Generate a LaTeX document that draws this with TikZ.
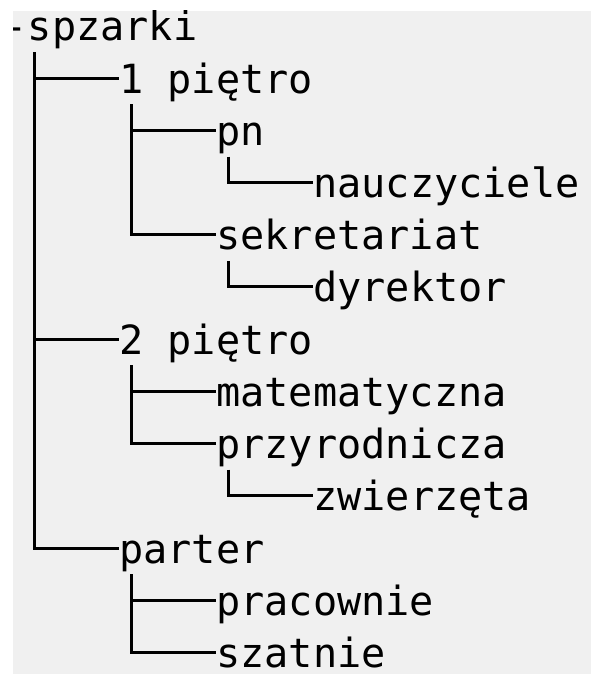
\documentclass[tikz,border=0pt]{standalone}
\usepackage{fontspec}
\newfontfamily\treefont{DejaVu Sans Mono}
\usepackage{xcolor}
\definecolor{bggray}{HTML}{F0F0F0}
\tikzset{lbl/.style={anchor=base west, inner sep=0pt, text height=30pt, text depth=0pt, font=\treefont\fontsize{40.2}{48}\selectfont}}
\tikzset{branch/.style={draw=black, line width=3pt}}

\begin{document}
\begin{tikzpicture}[x=1pt, y=-1pt]
                    \useasboundingbox (0, 0) rectangle (591, 674);
                    \fill[white] (0, 0) rectangle (591, 674);
                    \fill[bggray] (13, 11) rectangle (591, 674);

                    \begin{scope}
                    \clip (13, 11) rectangle (591, 674);
                    \node[lbl] (root) at (3.5, 41) {-spzarki};
                    \node[lbl] (p1) at (119, 93.2) {1 piętro};
                    \node[lbl] (pn) at (216, 145.3) {pn};
                    \node[lbl] (nau) at (313, 197.5) {nauczyciele};
                    \node[lbl] (sek) at (216, 249.7) {sekretariat};
                    \node[lbl] (dyr) at (313, 301.9) {dyrektor};
                    \node[lbl] (p2) at (119, 354) {2 piętro};
                    \node[lbl] (mat) at (216, 406.2) {matematyczna};
                    \node[lbl] (prz) at (216, 458.4) {przyrodnicza};
                    \node[lbl] (zwi) at (313, 510.5) {zwierzęta};
                    \node[lbl] (par) at (119, 563.2) {parter};
                    \node[lbl] (pra) at (216, 615) {pracownie};
                    \node[lbl] (szt) at (216, 667) {szatnie};
                    \end{scope}

                    \draw[branch] ([xshift=30.5pt, yshift=-11pt]root.south west) |- (p1.west);
                    \draw[branch] ([xshift=30.5pt, yshift=-11pt]root.south west) |- (p2.west);
                    \draw[branch] ([xshift=30.5pt, yshift=-11pt]root.south west) |- (par.west);

                    \draw[branch] ([xshift=12.5pt, yshift=-11pt]p1.south west) |- (pn.west);
                    \draw[branch] ([xshift=12.5pt, yshift=-11pt]p1.south west) |- (sek.west);
                    \draw[branch] ([xshift=12.5pt, yshift=-11pt]pn.south west) |- (nau.west);
                    \draw[branch] ([xshift=12.5pt, yshift=-11pt]sek.south west) |- (dyr.west);

                    \draw[branch] ([xshift=12.5pt, yshift=-11pt]p2.south west) |- (mat.west);
                    \draw[branch] ([xshift=12.5pt, yshift=-11pt]p2.south west) |- (prz.west);
                    \draw[branch] ([xshift=12.5pt, yshift=-11pt]prz.south west) |- (zwi.west);

                    \draw[branch] ([xshift=12.5pt, yshift=-11pt]par.south west) |- (pra.west);
                    \draw[branch] ([xshift=12.5pt, yshift=-11pt]par.south west) |- (szt.west);
                \end{tikzpicture}
\end{document}
